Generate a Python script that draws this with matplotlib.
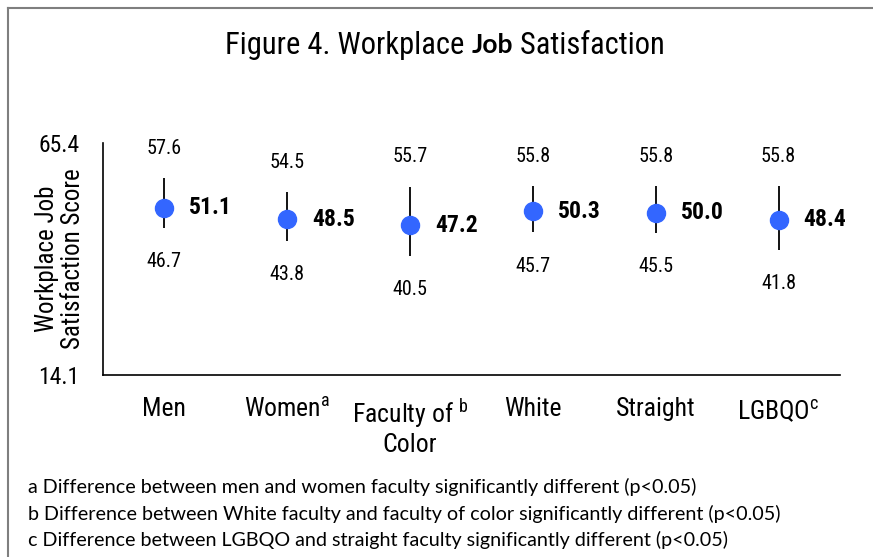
import matplotlib
matplotlib.use("Agg")
import matplotlib.pyplot as plt
from matplotlib.lines import Line2D
from matplotlib import font_manager

# datos
categorias = ["Men", "Women$^{\\mathrm{a}}$", "Faculty of $^{\\mathrm{b}}$\nColor",
              "White", "Straight", "LGBQO$^{\\mathrm{c}}$"]
medias = [51.1, 48.5, 47.2, 50.3, 50.0, 48.4]
superior = [57.6, 54.5, 55.7, 55.8, 55.8, 55.8]
inferior = [46.7, 43.8, 40.5, 45.7, 45.5, 41.8]
y_min, y_max = 14.1, 65.4
notas = [
    "a Difference between men and women faculty significantly different (p<0.05)",
    "b Difference between White faculty and faculty of color significantly different (p<0.05)",
    "c Difference between LGBQO and straight faculty significantly different (p<0.05)",
]

# buscar una fuente estrecha instalada (con negrita)
info = {(f.name, f.weight) for f in font_manager.fontManager.ttflist}
con_negrita = {n for n, w in info if str(w) in ("700", "bold")}
preferidas = ["Liberation Sans Narrow", "Arial Narrow", "Roboto Condensed",
              "Open Sans Condensed", "Noto Sans Condensed", "PT Sans Narrow",
              "Barlow Semi Condensed", "Asap Condensed"]
elegida = next((n for n in preferidas if n in con_negrita), "DejaVu Sans")
NARROW = [elegida, "DejaVu Sans"]
plt.rcParams["font.family"] = NARROW
plt.rcParams["mathtext.fontset"] = "custom"
plt.rcParams["mathtext.rm"] = elegida

W, H = 873, 557
fig = plt.figure(figsize=(W / 100, H / 100), dpi=100)
ax = fig.add_axes([103 / W, (H - 375) / H, (840 - 103) / W, (375 - 143) / H])

x = list(range(len(medias)))
ax.vlines(x, inferior, superior, color="black", linewidth=1.3, zorder=2)
ax.plot(x, medias, "o", color="#3366FF", markersize=13, zorder=3)

for xi, m, s, i in zip(x, medias, superior, inferior):
    ax.annotate(f"{m:.1f}", (xi, m), xytext=(25, 0), textcoords="offset pixels",
                ha="left", va="center", fontsize=17, fontweight="bold")
    ax.annotate(f"{s:.1f}", (xi, s), xytext=(0, 30), textcoords="offset pixels",
                ha="center", va="center", fontsize=14.5)
    ax.annotate(f"{i:.1f}", (xi, i), xytext=(0, -34), textcoords="offset pixels",
                ha="center", va="center", fontsize=14.5)

ax.set_xlim(-0.5, 5.5)
ax.set_ylim(y_min, y_max)
ax.set_yticks([y_min, y_max])
ax.set_yticklabels([f"{y_min}", f"{y_max}"], fontsize=17)
ax.set_xticks(x)
ax.set_xticklabels(categorias, fontsize=18.5, linespacing=1.1)
ax.tick_params(length=0)
ax.tick_params(axis="y", pad=17)
ax.tick_params(axis="x", pad=16)
for lado in ["top", "right"]:
    ax.spines[lado].set_visible(False)
ax.spines["left"].set_linewidth(1.2)
ax.spines["bottom"].set_linewidth(1.2)
fig.text(60 / W, 1 - 259 / H, "Workplace Job\nSatisfaction Score", rotation=90,
         ha="center", va="center", fontsize=18, linespacing=1.12)

# titulo con "Job" en negrita
fig.canvas.draw()
r = fig.canvas.get_renderer()
partes = [("Figure 4. Workplace ", NARROW, "normal", 22),
          ("Job", ["Lato", "DejaVu Sans"], "bold", 19),
          (" Satisfaction", NARROW, "normal", 22)]
textos = []
for s, fam, peso, tam in partes:
    t = fig.text(0, 1 - 45 / H, s, family=fam, fontweight=peso, fontsize=tam, va="center")
    textos.append(t)
anchos = [t.get_window_extent(r).width for t in textos]
x0 = 445 - sum(anchos) / 2
for t, a in zip(textos, anchos):
    t.set_x(x0 / W)
    x0 += a

for k, nota in enumerate(notas):
    fig.text(28 / W, 1 - (487 + 26.5 * k) / H, nota, family=["Lato", "DejaVu Sans"],
             fontsize=14.2, va="center")

# marco gris
fig.add_artist(Line2D([8 / W, 1], [1 - 8 / H, 1 - 8 / H], color="#7f7f7f", linewidth=1.5))
fig.add_artist(Line2D([8 / W, 8 / W], [0, 1 - 8 / H], color="#7f7f7f", linewidth=1.5))

fig.savefig("out.png", dpi=100)
